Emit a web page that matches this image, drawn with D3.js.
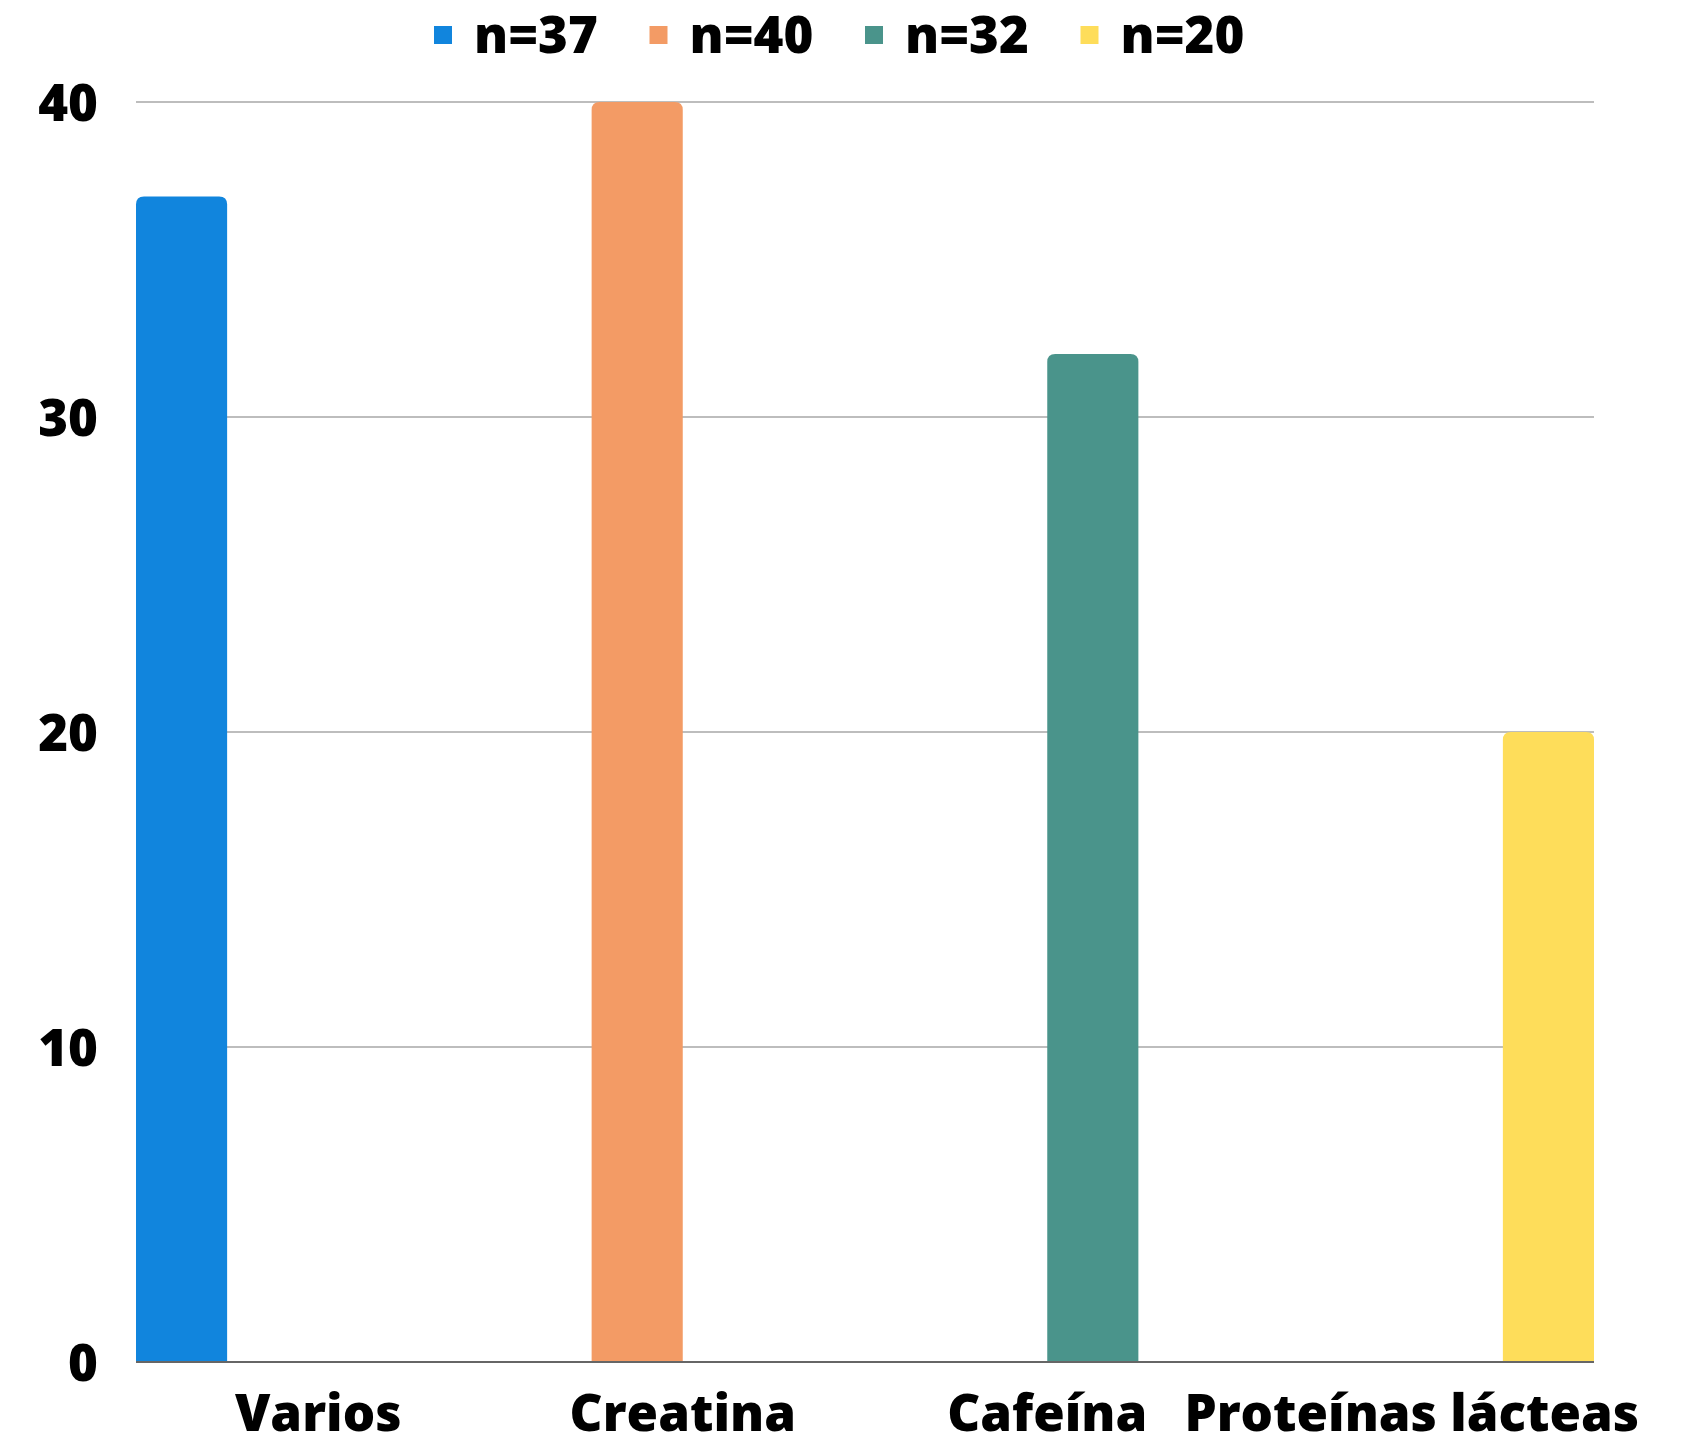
<!DOCTYPE html>
<html>
<head>
<meta charset="utf-8">
<script src="https://cdn.jsdelivr.net/npm/d3@7"></script>
<style>
  html, body { margin: 0; padding: 0; background: #fff; }
  svg { display: block; }
  text { font-family: "Open Sans", "Noto Sans", sans-serif; font-weight: 800; fill: #000; }
</style>
</head>
<body>
<svg id="chart" width="1688" height="1444"></svg>
<script>
// Categories on the x axis
const categories = ["Varios", "Creatina", "Cafeína", "Proteínas lácteas"];
// One series per group; each series only has a value in its own category
const seriesNames = ["n=37", "n=40", "n=32", "n=20"];
const seriesValues = [
  [37, 0, 0, 0],
  [0, 40, 0, 0],
  [0, 0, 32, 0],
  [0, 0, 0, 20]
];
const seriesColors = ["#1185dd", "#f39b65", "#4a948b", "#fedd5a"];
const yTicks = [0, 10, 20, 30, 40];

const svg = d3.select("#chart");
const margin = { left: 136, right: 94, top: 102, bottom: 82 };
const W = 1688, H = 1444;
const plotW = W - margin.left - margin.right;
const plotH = H - margin.top - margin.bottom;
const fontSize = 51;

const x0 = d3.scaleBand().domain(categories).range([0, plotW]).paddingInner(0).paddingOuter(0);
const x1 = d3.scaleBand().domain(d3.range(seriesNames.length)).range([0, x0.bandwidth()]).padding(0);
const y = d3.scaleLinear().domain([0, 40]).range([plotH, 0]);

const g = svg.append("g").attr("transform", `translate(${margin.left},${margin.top})`);

// Horizontal grid lines
g.append("g")
  .selectAll("line")
  .data(yTicks.filter(t => t > 0))
  .join("line")
  .attr("x1", 0).attr("x2", plotW)
  .attr("y1", d => y(d)).attr("y2", d => y(d))
  .attr("stroke", "#bdbdbd").attr("stroke-width", 2);

// Y axis labels
const yAxis = d3.axisLeft(y).tickValues(yTicks).tickSize(0).tickPadding(38).tickFormat(d3.format("d"));
const ya = g.append("g").call(yAxis);
ya.select(".domain").remove();
ya.selectAll("text")
  .attr("font-size", fontSize)
  .attr("dy", "0.36em")
  .style("font-family", '"Open Sans", "Noto Sans", sans-serif')
  .style("font-weight", 800)
  .attr("fill", "#000");

// Bars with rounded top corners
const r = 8;
function barPath(x, yTop, w, h) {
  const rr = Math.min(r, h / 2, w / 2);
  return `M${x},${yTop + h}V${yTop + rr}Q${x},${yTop} ${x + rr},${yTop}` +
         `H${x + w - rr}Q${x + w},${yTop} ${x + w},${yTop + rr}V${yTop + h}Z`;
}

const bars = [];
seriesValues.forEach((vals, si) => {
  vals.forEach((v, ci) => {
    if (v > 0) bars.push({ s: si, c: categories[ci], v });
  });
});

g.append("g")
  .selectAll("path")
  .data(bars)
  .join("path")
  .attr("d", d => barPath(x0(d.c) + x1(d.s), y(d.v), x1.bandwidth(), y(0) - y(d.v)))
  .attr("fill", d => seriesColors[d.s]);

// Baseline
g.append("line")
  .attr("x1", 0).attr("x2", plotW)
  .attr("y1", y(0)).attr("y2", y(0))
  .attr("stroke", "#666").attr("stroke-width", 2);

// X axis labels
const xAxis = d3.axisBottom(x0).tickSize(0).tickPadding(33);
const xa = g.append("g").attr("transform", `translate(0,${plotH})`).call(xAxis);
xa.select(".domain").remove();
xa.selectAll("text")
  .attr("font-size", fontSize)
  .style("font-family", '"Open Sans", "Noto Sans", sans-serif')
  .style("font-weight", 800)
  .attr("fill", "#000");

// Legend
const legend = svg.append("g").attr("transform", "translate(434,0)");
const item = legend.selectAll("g")
  .data(seriesNames)
  .join("g")
  .attr("transform", (d, i) => `translate(${i * 215.5},0)`);
item.append("rect")
  .attr("x", 0).attr("y", 26).attr("width", 18).attr("height", 18)
  .attr("fill", (d, i) => seriesColors[i]);
item.append("text")
  .attr("x", 40).attr("y", 53)
  .attr("font-size", fontSize)
  .text(d => d);
</script>
</body>
</html>
